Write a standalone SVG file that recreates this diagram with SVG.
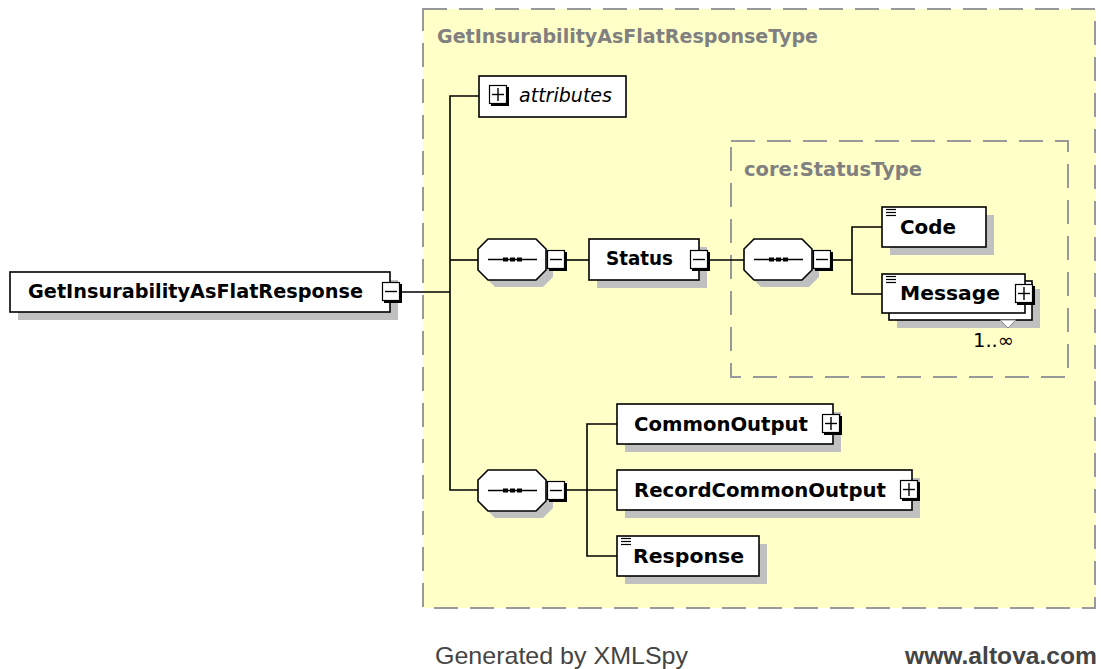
<svg xmlns="http://www.w3.org/2000/svg" width="1101" height="669" viewBox="0 0 1101 669">
<style>
.lbl{font-family:"DejaVu Sans","Liberation Sans",sans-serif;font-size:19px;font-weight:bold;fill:#000}
.ttl{font-family:"DejaVu Sans","Liberation Sans",sans-serif;font-size:19px;font-weight:bold;fill:#808080}
.it{font-family:"DejaVu Sans","Liberation Sans",sans-serif;font-size:19px;font-style:italic;fill:#000}
.reg{font-family:"DejaVu Sans","Liberation Sans",sans-serif;font-size:19px;fill:#000}
.ft{font-family:"Liberation Sans",Arial,sans-serif;font-size:24px;fill:#444}
.box{fill:#fff;stroke:#000;stroke-width:1.6}
.shd{fill:#c0c0c0}
.area{fill:#ffffc8;stroke:#999;stroke-width:2;stroke-dasharray:24 12}
.area2{fill:none;stroke:#999;stroke-width:2;stroke-dasharray:24 12}
.con{fill:none;stroke:#000;stroke-width:1.6}
.ico{stroke:#000;stroke-width:1.2}
</style>
<defs>
<g id="minus"><rect x="2" y="2" width="18" height="19" fill="#000"/><rect x="0.5" y="0.5" width="17" height="18" fill="#fff" stroke="#000" stroke-width="1.2"/><line x1="3" y1="9.5" x2="15" y2="9.5" stroke="#000" stroke-width="1.4"/></g>
<g id="plus"><rect x="2" y="2" width="18" height="19" fill="#000"/><rect x="0.5" y="0.5" width="17" height="18" fill="#fff" stroke="#000" stroke-width="1.2"/><line x1="3" y1="9.5" x2="15" y2="9.5" stroke="#000" stroke-width="1.4"/><line x1="9" y1="3" x2="9" y2="16" stroke="#000" stroke-width="1.4"/></g>
<path id="oct" d="M10,0 L58,0 L68,10 L68,31 L58,41 L10,41 L0,31 L0,10 Z"/>
<g id="seqin"><line x1="10" y1="20.5" x2="59" y2="20.5" stroke="#000" stroke-width="1.4"/><rect x="25" y="18.5" width="5" height="4" fill="#000"/><rect x="32" y="18.5" width="5" height="4" fill="#000"/><rect x="39" y="18.5" width="5" height="4" fill="#000"/></g>
<g id="simple"><line x1="0" y1="0.5" x2="10" y2="0.5" class="ico"/><line x1="0" y1="3.5" x2="10" y2="3.5" class="ico"/><line x1="0" y1="6.5" x2="10" y2="6.5" class="ico"/></g>
</defs>

<g id="type-area">
<rect x="423" y="9" width="672" height="599" class="area"/>
<text x="437" y="43" class="ttl" textLength="381" lengthAdjust="spacingAndGlyphs">GetInsurabilityAsFlatResponseType</text>
</g>
<g id="status-type-area">
<rect x="731" y="141" width="337" height="236" class="area2"/>
<text x="744" y="176" class="ttl" textLength="178" lengthAdjust="spacingAndGlyphs">core:StatusType</text>
</g>

<g id="connectors">
<polyline class="con" points="400,292 450,292"/>
<polyline class="con" points="479,96 450,96 450,490 478,490"/>
<polyline class="con" points="450,260 478,260"/>
<polyline class="con" points="566,260 589,260"/>
<polyline class="con" points="709,260 744,260"/>
<polyline class="con" points="832,260 852,260"/>
<polyline class="con" points="882,227 852,227 852,294 882,294"/>
<polyline class="con" points="566,490 617,490"/>
<polyline class="con" points="617,424 587,424 587,556 617,556"/>
</g>

<g id="root">
<rect x="18" y="280" width="380" height="40" class="shd"/>
<rect x="10" y="272" width="380" height="40" class="box"/>
<text x="28" y="298" class="lbl" textLength="335" lengthAdjust="spacingAndGlyphs">GetInsurabilityAsFlatResponse</text>
<use href="#minus" x="382" y="282"/>
</g>

<g id="attributes">
<rect x="479" y="76" width="147" height="41" class="box"/>
<use href="#plus" x="489" y="85"/>
<text x="519" y="102" class="it" textLength="93" lengthAdjust="spacingAndGlyphs">attributes</text>
</g>

<g id="seq1">
<use href="#oct" x="485" y="246" class="shd"/>
<use href="#oct" x="478" y="239" class="box"/>
<use href="#seqin" x="478" y="239"/>
<use href="#minus" x="547" y="250"/>
</g>

<g id="status">
<rect x="597" y="247" width="110" height="41" class="shd"/>
<rect x="589" y="239" width="110" height="41" class="box"/>
<text x="606" y="265" class="lbl" textLength="67" lengthAdjust="spacingAndGlyphs">Status</text>
<use href="#minus" x="690" y="250"/>
</g>

<g id="seq2">
<use href="#oct" x="751" y="246" class="shd"/>
<use href="#oct" x="744" y="239" class="box"/>
<use href="#seqin" x="744" y="239"/>
<use href="#minus" x="813" y="250"/>
</g>

<g id="code">
<rect x="890" y="215" width="104" height="40" class="shd"/>
<rect x="882" y="207" width="104" height="40" class="box"/>
<use href="#simple" x="886" y="209"/>
<text x="900" y="234" class="lbl" textLength="56" lengthAdjust="spacingAndGlyphs">Code</text>
</g>

<g id="message">
<rect x="897" y="289" width="143" height="39" class="shd"/>
<rect x="889" y="281" width="143" height="39" class="box"/>
<rect x="882" y="274" width="143" height="39" class="box"/>
<polygon points="1000,320 1016,320 1008,328" fill="#fff" stroke="#808080" stroke-width="1"/>
<use href="#simple" x="886" y="276"/>
<text x="900" y="300" class="lbl" textLength="100" lengthAdjust="spacingAndGlyphs">Message</text>
<use href="#plus" x="1015" y="284"/>
<text x="973" y="347" class="reg" textLength="41" lengthAdjust="spacingAndGlyphs">1..∞</text>
</g>

<g id="seq3">
<use href="#oct" x="485" y="477" class="shd"/>
<use href="#oct" x="478" y="470" class="box"/>
<use href="#seqin" x="478" y="470"/>
<use href="#minus" x="547" y="481"/>
</g>

<g id="commonoutput">
<rect x="625" y="412" width="216" height="40" class="shd"/>
<rect x="617" y="404" width="216" height="40" class="box"/>
<text x="634" y="431" class="lbl" textLength="174" lengthAdjust="spacingAndGlyphs">CommonOutput</text>
<use href="#plus" x="822" y="414"/>
</g>

<g id="recordcommonoutput">
<rect x="625" y="478" width="295" height="40" class="shd"/>
<rect x="617" y="470" width="295" height="40" class="box"/>
<text x="634" y="497" class="lbl" textLength="252" lengthAdjust="spacingAndGlyphs">RecordCommonOutput</text>
<use href="#plus" x="900" y="480"/>
</g>

<g id="response">
<rect x="625" y="544" width="142" height="40" class="shd"/>
<rect x="617" y="536" width="142" height="40" class="box"/>
<use href="#simple" x="621" y="538"/>
<text x="633" y="563" class="lbl" textLength="111" lengthAdjust="spacingAndGlyphs">Response</text>
</g>

<g id="footer">
<text x="435" y="664" class="ft" textLength="253" lengthAdjust="spacingAndGlyphs">Generated by XMLSpy</text>
<text x="905" y="664" class="ft" font-weight="bold" textLength="192" lengthAdjust="spacingAndGlyphs">www.altova.com</text>
</g>
</svg>
